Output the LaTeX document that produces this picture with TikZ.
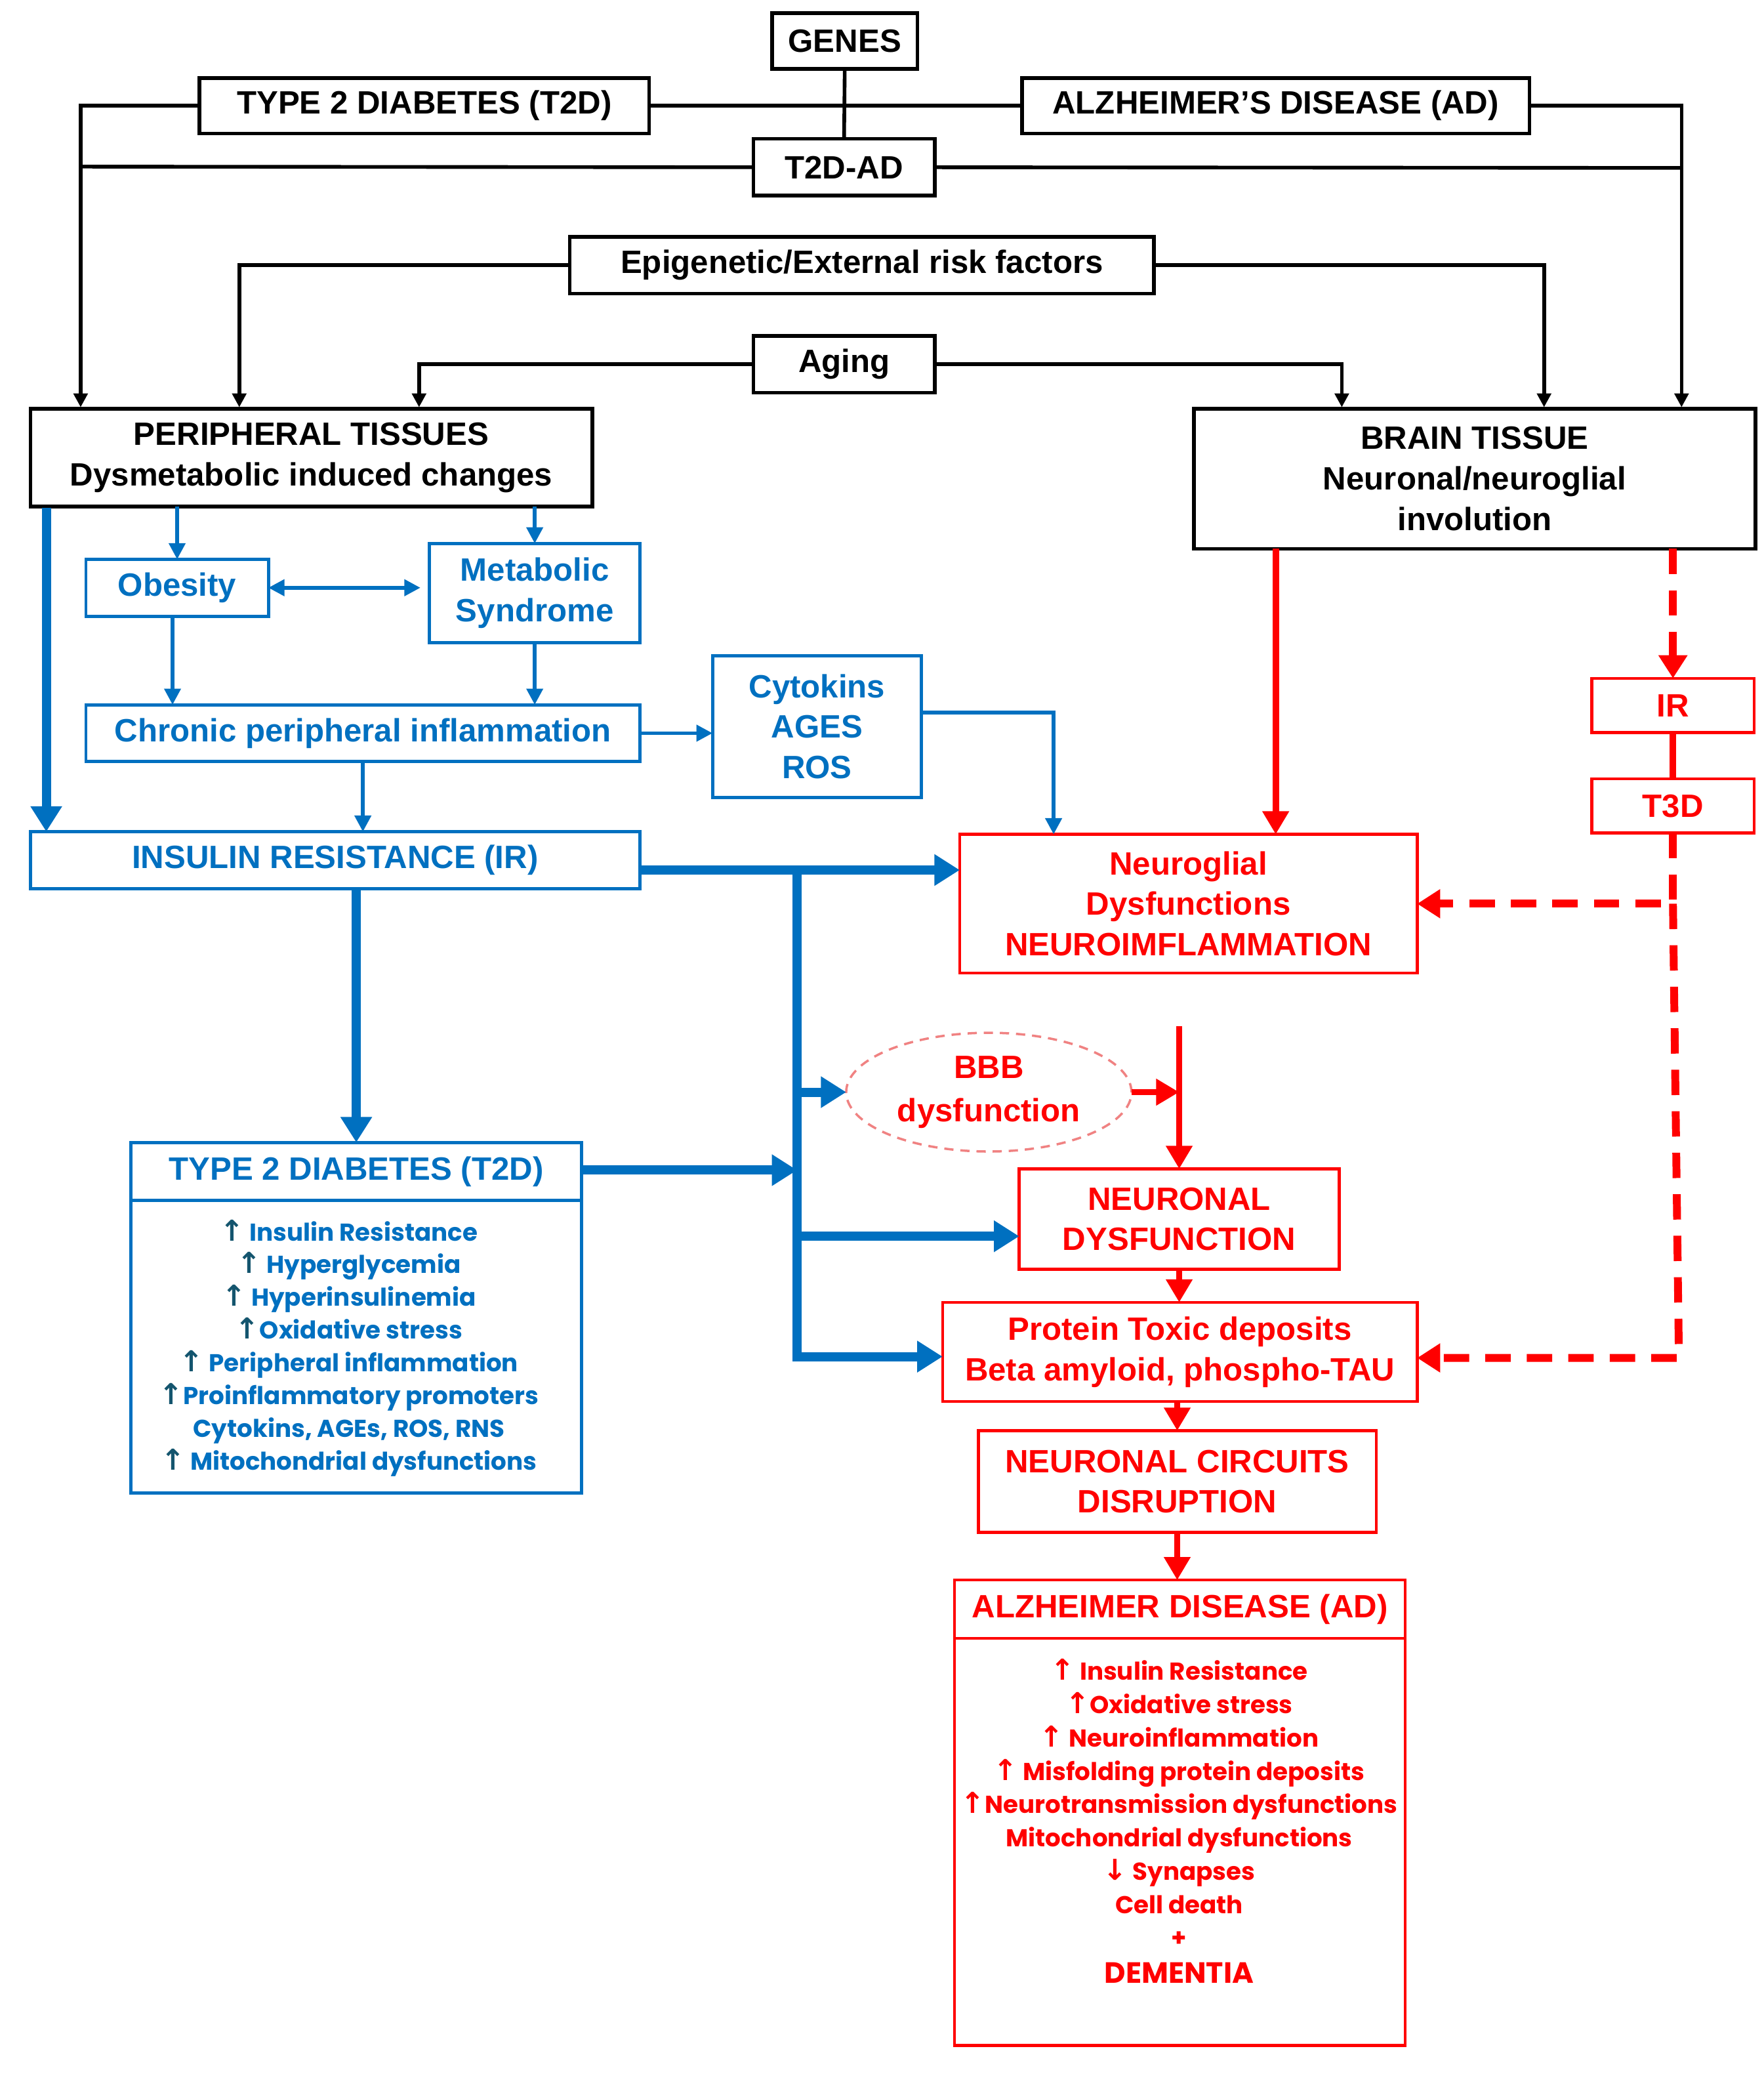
\documentclass[tikz,border=0pt]{standalone}
\usepackage{fontspec}
\setmainfont{Liberation Sans}
\newfontfamily\listfont{Poppins}
\newfontfamily\symfont{DejaVu Sans}
\usetikzlibrary{arrows.meta,shapes.geometric}
\definecolor{cblue}{RGB}{0,112,192}
\definecolor{cred}{RGB}{255,0,0}
\definecolor{cteal}{RGB}{20,85,110}
\definecolor{csalmon}{RGB}{240,130,130}
\newcommand{\upt}{{\color{cteal}\fontsize{12.5}{12}\symfont ↑}}
\newcommand{\upr}{{\fontsize{12.5}{12}\symfont ↑}}
\newcommand{\dnr}{{\fontsize{12.5}{12}\symfont ↓}}
% \bxn{style}{name}{x1}{y1}{x2}{y2}{text}
\newcommand{\bxn}[7]{\node[#1, minimum width={(#5-#3)*0.020151cm}, minimum height={(#6-#4)*0.020151cm}] (#2) at ({(#3+#5)/2},{(#4+#6)/2}) {#7};}
\begin{document}
\begin{tikzpicture}[x=0.020151cm,y=-0.020151cm,
 base/.style={inner sep=0pt, outer sep=0pt, align=center, font=\fontsize{14}{17.6}\selectfont\bfseries},
 bbox/.style={base, draw=black, line width=1.6pt},
 ubox/.style={base, draw=cblue, line width=1.4pt, text=cblue},
 rbox/.style={base, draw=cred, line width=1.3pt, text=cred},
 bl/.style={draw=black, line width=1.6pt},
 bla/.style={bl, -{Triangle[length=6pt,width=6pt]}},
 ut/.style={draw=cblue, line width=1.6pt, -{Triangle[length=7pt,width=7pt]}},
 uk/.style={draw=cblue, line width=4pt, -{Triangle[length=11pt,width=13pt]}},
 rk/.style={draw=cred, line width=2.8pt, -{Triangle[length=10pt,width=11pt]}},
 rline/.style={draw=cred, line width=2.8pt},
 rd/.style={draw=cred, line width=3.4pt, dash pattern=on 11pt off 7pt, -{Triangle[length=10pt,width=12pt]}},
 listt/.style={inner sep=0pt, align=center, text=cblue, font=\fontsize{10.6}{14.2}\listfont\bfseries},
 listr/.style={inner sep=0pt, align=center, text=cred, font=\fontsize{10.6}{14.45}\listfont\bfseries}]
\useasboundingbox (0,0) rectangle (1333.9,1568.6);
\fill[white] (0,0) rectangle (1333.9,1568.6);

% black boxes
\bxn{bbox}{genes}{584}{10}{694}{52}{GENES}
\bxn{bbox}{t2dtop}{151}{59}{491}{101}{TYPE 2 DIABETES (T2D)}
\bxn{bbox}{adtop}{773}{59}{1157}{101}{ALZHEIMER’S DISEASE (AD)}
\bxn{bbox}{t2dad}{570}{105}{707}{148}{T2D-AD}
\bxn{bbox}{epi}{431}{179}{873}{222}{Epigenetic/External risk factors}
\bxn{bbox}{aging}{570}{254}{707}{297}{Aging}
\bxn{bbox}{periph}{23}{309}{448}{383}{PERIPHERAL TISSUES\\Dysmetabolic induced changes}
\bxn{bbox}{brain}{903}{309}{1328}{415}{BRAIN TISSUE\\Neuronal/neuroglial\\involution}

% blue boxes
\bxn{ubox}{obesity}{65}{423}{203}{466}{Obesity}
\bxn{ubox}{metab}{325}{411}{484}{486}{Metabolic\\Syndrome}
\bxn{ubox}{chronic}{65}{533}{484}{576}{Chronic peripheral inflammation}
\bxn{ubox}{cyto}{539}{496}{697}{603}{Cytokins\\AGES\\ROS}
\bxn{ubox}{ir}{23}{629}{484}{672}{INSULIN RESISTANCE (IR)}
\bxn{ubox}{t2dh}{99}{864}{440}{908}{TYPE 2 DIABETES (T2D)}
\bxn{ubox}{t2db}{99}{908}{440}{1129}{}
\node[listt] (t2dlist) at (264,1019.5) {\upt\ Insulin Resistance\\
\upt\ Hyperglycemia\\
\upt\ Hyperinsulinemia\\
\upt Oxidative stress\\
\upt\ Peripheral inflammation\\
\upt Proinflammatory promoters\\
Cytokins, AGEs, ROS, RNS\\
\upt\ Mitochondrial dysfunctions};

% red boxes
\bxn{rbox}{neuroglia}{726}{631}{1072}{736}{Neuroglial\\Dysfunctions\\NEUROIMFLAMMATION}
\bxn{rbox}{irr}{1204}{513}{1327}{554}{IR}
\bxn{rbox}{t3d}{1204}{589}{1327}{630}{T3D}
\node[base, ellipse, draw=csalmon, line width=1pt, dash pattern=on 4pt off 3pt, text=cred,
      minimum width=4.35cm, minimum height=1.81cm, font=\fontsize{14}{18.8}\selectfont\bfseries] (bbb) at (748,826) {BBB\\dysfunction};
\bxn{rbox}{neurdys}{771}{884}{1013}{960}{NEURONAL\\DYSFUNCTION}
\bxn{rbox}{protein}{713}{985}{1072}{1060}{Protein Toxic deposits\\Beta amyloid, phospho-TAU}
\bxn{rbox}{circ}{740}{1082}{1041}{1159}{NEURONAL CIRCUITS\\DISRUPTION}
\bxn{rbox}{adh}{722}{1195}{1063}{1239}{ALZHEIMER DISEASE (AD)}
\bxn{rbox}{adb}{722}{1239}{1063}{1547}{}
\node[listr] (adlist) at (892,1363.5) {\upr\ Insulin Resistance\\
\upr Oxidative stress\\
\upr\ Neuroinflammation\\
\upr\ Misfolding protein deposits\\
\upr Neurotransmission dysfunctions\\
Mitochondrial dysfunctions\\
\dnr\ Synapses\\
Cell death\\
+};
\node[inner sep=0pt, text=cred, font=\fontsize{12.7}{15}\listfont\bfseries] (dementia) at (892,1492) {DEMENTIA};

% coordinates
\coordinate (jl) at (61,126);
\coordinate (jr) at (1272,127);
\coordinate (p1) at (61,308);
\coordinate (p2) at (181,308);
\coordinate (p3) at (317,308);
\coordinate (b1) at (1015,308);
\coordinate (b2) at (1168,308);
\coordinate (b3) at (1272,308);
\coordinate (p5) at (35,384);
\coordinate (c1) at (797,539);
\coordinate (i1) at (484,658);
\coordinate (bustop) at (603,658);
\coordinate (busbot) at (603,1026);
\coordinate (bus1) at (603,826);
\coordinate (bus2) at (603,935);
\coordinate (bus3) at (603,885);
\coordinate (r1) at (965,415);
\coordinate (rtop) at (892,776);
\coordinate (c2) at (t3d.south |- neuroglia.east);
\coordinate (c3) at (1270,1027);

% black connectors
\draw[bl] (genes.south) -- (t2dad.north);
\draw[bl] (t2dtop.east) -- (adtop.west);
\draw[bla] (t2dtop.west) -| (p1);
\draw[bl] (t2dad.west) -- (jl);
\draw[bla] (adtop.east) -| (b3);
\draw[bl] (t2dad.east) -- (jr);
\draw[bla] (epi.west) -| (p2);
\draw[bla] (epi.east) -| (b2);
\draw[bla] (aging.west) -| (p3);
\draw[bla] (aging.east) -| (b1);

% blue connectors
\draw[ut] (obesity.north |- periph.south) -- (obesity.north);
\draw[ut] (metab.north |- periph.south) -- (metab.north);
\draw[ut, {Triangle[length=7pt,width=7pt]}-{Triangle[length=7pt,width=7pt]}, shorten >=4pt] (obesity.east) -- (obesity.east -| metab.west);
\draw[ut] ([xshift=-2pt]obesity.south) -- ([xshift=-2pt]obesity.south |- chronic.north);
\draw[ut] (metab.south) -- (metab.south |- chronic.north);
\draw[ut] (chronic.east) -- (chronic.east -| cyto.west);
\draw[ut] (cyto.east |- c1) -- (c1) -- (c1 |- neuroglia.north);
\draw[ut] (chronic.south) -- (chronic.south |- ir.north);
\draw[uk] (p5) -- (p5 |- ir.north);
\draw[uk] (ir.east |- i1) -- (neuroglia.west |- i1);
\draw[uk] (bustop) -- (busbot) -- (protein.west |- busbot);
\draw[uk] (bus1) -- (bbb.west);
\draw[uk] (bus2) -- (neurdys.west |- bus2);
\draw[uk] (t2dh.north |- ir.south) -- (t2dh.north);
\draw[uk] (t2dh.east |- bus3) -- (bus3);

% red connectors
\draw[rk] (r1) -- (r1 |- neuroglia.north);
\draw[rd] (brain.south -| irr.north) -- (irr.north);
\draw[rline] (irr.south) -- (t3d.north);
\draw[rd] (t3d.south) -- (c2) -- (neuroglia.east);
\draw[rd] (c2) -- (c3) -- (c3 -| protein.east);
\draw[rk] (bbb.east) -- (bbb.east -| rtop);
\draw[rk] (rtop) -- (rtop |- neurdys.north);
\draw[rk] (neurdys.south) -- (neurdys.south |- protein.north);
\draw[rk] (protein.south -| circ.north) -- (circ.north);
\draw[rk] (circ.south) -- (circ.south |- adh.north);
\end{tikzpicture}
\end{document}
